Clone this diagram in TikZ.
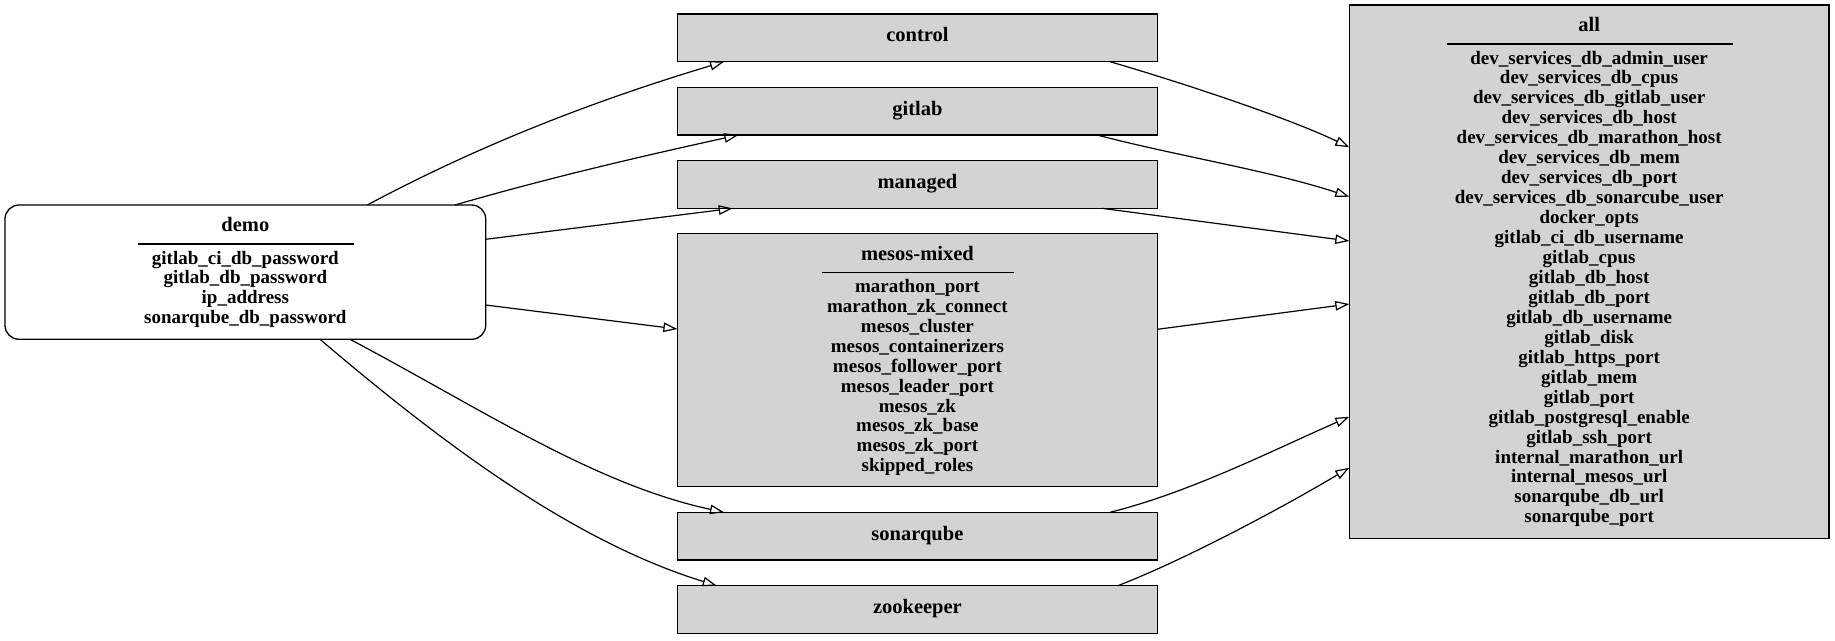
\documentclass[tikz,border=0pt]{standalone}
\usepackage{fontspec}
\setmainfont{Liberation Serif}
\usetikzlibrary{arrows.meta}
\definecolor{boxgray}{HTML}{D3D3D3}
\tikzset{
  graybox/.style={draw=black, fill=boxgray, line width=1.33pt, rectangle, outer sep=0pt, inner sep=0pt},
  whitebox/.style={draw=black, fill=white, line width=1.33pt, rectangle, rounded corners=14pt, outer sep=0pt, inner sep=0pt},
  lbl/.style={inner sep=0pt, outer sep=0pt, anchor=base, font=\fontsize{19}{20}\selectfont\bfseries},
  ttl/.style={inner sep=0pt, outer sep=0pt, anchor=base, font=\fontsize{20.5}{21}\selectfont\bfseries},
  sepline/.style={line width=1.2pt},
  edge/.style={line width=1.2pt, -{Triangle[open, length=14pt, width=9.5pt, line width=1.2pt]}},
}
\begin{document}
\begin{tikzpicture}[x=1pt, y=-1pt]
\useasboundingbox (0,0) rectangle (1835,640);
\fill[white] (0,0) rectangle (1835,640);

% boxes
\node[whitebox, minimum width=480.7pt, minimum height=134.3pt] (demo) at (245.35,272.15) {};
\node[graybox, minimum width=480pt, minimum height=47.7pt] (control) at (917.4,37.85) {};
\node[graybox, minimum width=480pt, minimum height=47.7pt] (gitlab) at (917.4,111.15) {};
\node[graybox, minimum width=480pt, minimum height=47.7pt] (managed) at (917.4,184.5) {};
\node[graybox, minimum width=480pt, minimum height=253.4pt] (mesos) at (917.4,360) {};
\node[graybox, minimum width=480pt, minimum height=47.7pt] (sonarqube) at (917.4,536.15) {};
\node[graybox, minimum width=480pt, minimum height=47.7pt] (zookeeper) at (917.4,609.5) {};
\node[graybox, minimum width=479.7pt, minimum height=533.7pt] (all) at (1589.15,271.85) {};

% single-line labels
\node[ttl] (control-t) at (917.4,41.7) {control};
\node[ttl] (gitlab-t) at (917.4,115.0) {gitlab};
\node[ttl] (managed-t) at (917.4,188.4) {managed};
\node[ttl] (sonarqube-t) at (917.4,540.0) {sonarqube};
\node[ttl] (zookeeper-t) at (917.4,613.4) {zookeeper};

% demo
\node[ttl] (demo-t) at (245.35,231.7) {demo};
\draw[sepline] (138,244) -- (354,244);
\foreach \t [count=\i] in {gitlab\_ci\_db\_password, gitlab\_db\_password, ip\_address, sonarqube\_db\_password}
  \node[lbl] (demo-\i) at ({245.35},{264+19.8*(\i-1)}) {\t};

% mesos-mixed
\node[ttl] (mesos-t) at (917.4,260) {mesos-mixed};
\draw[sepline] (821.5,272.3) -- (1013.5,272.3);
\foreach \t [count=\i] in {marathon\_port, marathon\_zk\_connect, mesos\_cluster, mesos\_containerizers, mesos\_follower\_port, mesos\_leader\_port, mesos\_zk, mesos\_zk\_base, mesos\_zk\_port, skipped\_roles}
  \node[lbl] (mesos-\i) at ({917.4},{292.3+19.95*(\i-1)}) {\t};

% all
\node[ttl] (all-t) at (1589.15,31.7) {all};
\draw[sepline] (1447.3,44) -- (1732.7,44);
\foreach \t [count=\i] in {dev\_services\_db\_admin\_user, dev\_services\_db\_cpus, dev\_services\_db\_gitlab\_user, dev\_services\_db\_host, dev\_services\_db\_marathon\_host, dev\_services\_db\_mem, dev\_services\_db\_port, dev\_services\_db\_sonarcube\_user, docker\_opts, gitlab\_ci\_db\_username, gitlab\_cpus, gitlab\_db\_host, gitlab\_db\_port, gitlab\_db\_username, gitlab\_disk, gitlab\_https\_port, gitlab\_mem, gitlab\_port, gitlab\_postgresql\_enable, gitlab\_ssh\_port, internal\_marathon\_url, internal\_mesos\_url, sonarqube\_db\_url, sonarqube\_port}
  \node[lbl] (all-\i) at ({1589.15},{64+19.95*(\i-1)}) {\t};

% connectors from demo
\draw[edge] ([xshift=362.3pt]demo.north west) .. controls (487,141) and (604,97.7) .. ([xshift=46.6pt]control.south west);
\draw[edge] ([xshift=450pt]demo.north west) .. controls (550,177.4) and (643,156) .. ([xshift=60.9pt]gitlab.south west);
\draw[edge] ([yshift=-34.3pt]demo.north east) -- ([xshift=55.3pt]managed.south west);
\draw[edge] ([yshift=-100pt]demo.north east) -- ([yshift=-95.7pt]mesos.north west);
\draw[edge] ([xshift=345pt]demo.south west) .. controls (480,408) and (594,484.3) .. ([xshift=46.6pt]sonarqube.north west);
\draw[edge] ([xshift=315pt]demo.south west) .. controls (450,450) and (576.7,542.3) .. ([xshift=39.3pt]zookeeper.north west);

% connectors to all
\draw[edge] ([xshift=432.6pt]control.south west) .. controls (1180,82) and (1290,118.5) .. ([yshift=-142.3pt]all.north west);
\draw[edge] ([xshift=419.6pt]gitlab.south west) .. controls (1180,156.6) and (1270,170.6) .. ([yshift=-191.7pt]all.north west);
\draw[edge] ([xshift=424.6pt]managed.south west) -- ([yshift=-236pt]all.north west);
\draw[edge] ([yshift=-96pt]mesos.north east) -- ([yshift=-299pt]all.north west);
\draw[edge] ([xshift=432.6pt]sonarqube.north west) .. controls (1190,492.3) and (1270,451.6) .. ([yshift=-411.7pt]all.north west);
\draw[edge] ([xshift=440.6pt]zookeeper.north west) .. controls (1190,557.6) and (1290,503.2) .. ([yshift=-462.7pt]all.north west);
\end{tikzpicture}
\end{document}
